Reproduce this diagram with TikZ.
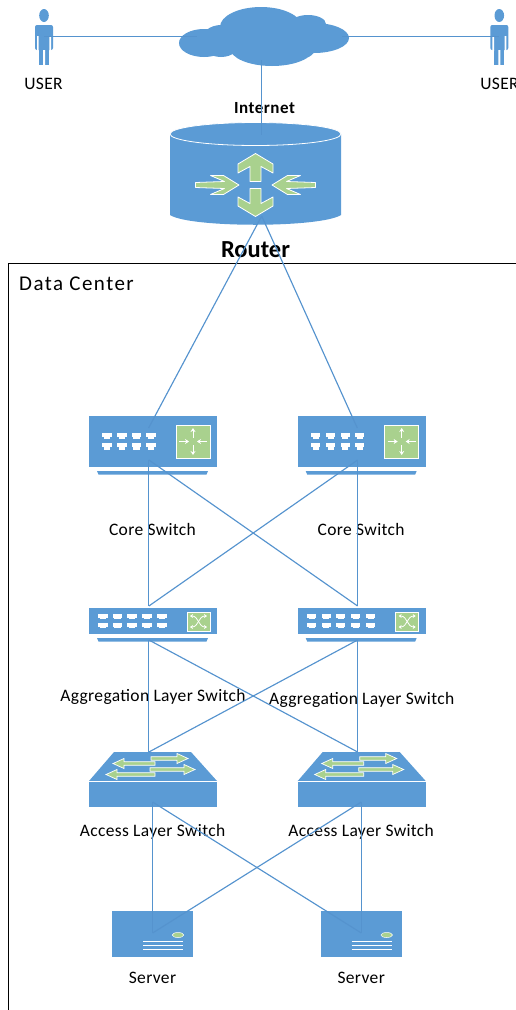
\documentclass[tikz,border=0pt]{standalone}
\usepackage{fontspec}
\setmainfont[LetterSpace=2]{Carlito}
\usetikzlibrary{arrows.meta}
\definecolor{netblue}{HTML}{5B9BD5}
\definecolor{netline}{HTML}{5593CE}
\definecolor{netgreen}{HTML}{A9D18E}
\newcommand{\portrow}[3]{% columns, top y, height
  \foreach \px in {#1} {
    \fill[white] (\px-4.7,#2) rectangle (\px+4.7,#2+4);
    \fill[white] (\px-3.1,#2+4) rectangle (\px+3.1,#2+#3);
  }
}
\newcommand{\baseplate}[1]{\fill[netblue] (97,#1) -- (208,#1) -- (206.5,#1+3.5) -- (98.5,#1+3.5) -- cycle;}
\newcommand{\flatarrow}[3]{% tail x, tip x, y
  \filldraw[netgreen, draw=white, line width=.7pt] (#1,#3-1.8) -- ({#2-sign(#2-#1)*11},#3-1.8) -- ({#2-sign(#2-#1)*11},#3-5)
    -- (#2,#3) -- ({#2-sign(#2-#1)*11},#3+5) -- ({#2-sign(#2-#1)*11},#3+1.8) -- (#1,#3+1.8) -- cycle;
}
\begin{document}
\begin{tikzpicture}[
  x=1pt, y=-1pt,
  every node/.style = {inner sep=0pt, font=\fontsize{17.5}{20}\selectfont},
  device/.style = {shape=rectangle, fill=netblue, minimum width=128pt},
  corebox/.style = {device, minimum height=51pt},
  aggbox/.style = {device, minimum height=26pt},
  accessbox/.style = {device, minimum height=25pt},
  serverbox/.style = {shape=rectangle, fill=netblue, minimum width=81pt, minimum height=46pt},
  lbl/.style = {text=black},
  link/.style = {draw=netline, line width=1.15pt},
  tinyarrow/.style = {draw=white, line width=1pt, -{Stealth[length=4pt,width=5pt]}},
  arrowface/.style = {fill=netgreen, draw=white, line width=.8pt, line join=round}
]
  \useasboundingbox (0,0) rectangle (516,1010);
  % data center frame
  \draw[black, line width=.8pt] (8,1010) -- (8,263.6) -- (516,263.6);
  \node[lbl, font=\fontsize{21}{24}\selectfont\addfontfeatures{LetterSpace=7}] (dclabel) at (76.5,284) {Data Center};

  % cloud
  \fill[netblue] (204,43) ellipse (25 and 14) (221,41) ellipse (20 and 16) (261,27) ellipse (41 and 20)
    (308,24) ellipse (18 and 9) (314,38) ellipse (35 and 15) (272,48) ellipse (42 and 18) (295,49) ellipse (20 and 11);
  \coordinate (cloudL) at (197,36.7);
  \coordinate (cloudR) at (342,36.7);
  \coordinate (cloudB) at (261.7,60);

  % users
  \foreach \n/\x in {userA/44, userB/499.3} {
    \begin{scope}[shift={(\x,0)}]
      \fill[netblue] (0,15.5) ellipse (4.8 and 6.5);
      \fill[netblue, rounded corners=2pt] (-9,50) -- (-9,25) -- (9,25) -- (9,50) -- cycle;
      \fill[netblue] (-5,40) rectangle (5,64.5);
      \fill[white] (-7,36) rectangle (-5.3,51) (5.3,36) rectangle (7,51) (-1,50) rectangle (1,65);
      \coordinate (\n) at (0,36.7);
    \end{scope}
  }
  \node[lbl] (userAlabel) at (43.5,84) {USER};
  \node[lbl] (userBlabel) at (499.5,84) {USER};

  % router
  \fill[netblue] (170,134) -- (170,215) .. controls (190,228) and (320,228) .. (341,215) -- (341,134) -- cycle;
  \filldraw[fill=netblue, draw=white, line width=.8pt] (255.5,134) ellipse (85.5 and 11.5);
  \foreach \s in {-1,1} {
    \begin{scope}[shift={(255.5,185)}]
      \path[arrowface, yscale=\s] (0,31.5) -- (17.5,21) -- (17.5,12) -- (5.5,18.5) -- (5.5,3.5) -- (-5.5,3.5)
        -- (-5.5,18.5) -- (-17.5,12) -- (-17.5,21) -- cycle;
      \path[arrowface, xscale=\s] (16.5,0) -- (32,-9.5) -- (45,-9.5) -- (31,-3.5) -- (60,-2.5) -- (60,2.5)
        -- (31,3.5) -- (45,9.5) -- (32,9.5) -- cycle;
    \end{scope}
  }
  \coordinate (routerT) at (261.7,135);
  \coordinate (routerB) at (261.7,216);
  \node[lbl, font=\bfseries\fontsize{17}{20}\selectfont\addfontfeatures{LetterSpace=3}] (inetlabel) at (264.5,108) {Internet};
  \node[lbl, font=\bfseries\fontsize{24.5}{26}\selectfont\addfontfeatures{LetterSpace=0}] (routerlabel) at (255.5,249.5) {Router};

  % core switches
  \foreach \n/\x in {coreA/0, coreB/208.7} {
    \begin{scope}[shift={(\x,0)}]
      \node[corebox] (\n) at (153,441.5) {};
      \baseplate{471}
      \portrow{107,122,136.5,151}{432.5}{6.7}
      \portrow{107,122,136.5,151}{443}{6.7}
      \filldraw[fill=netgreen, draw=white, line width=.8pt] (176,425) rectangle (210,458);
      \draw[tinyarrow] (193,438) -- (193,428);
      \draw[tinyarrow] (193,445) -- (193,455);
      \draw[tinyarrow] (179,441.5) -- (189,441.5);
      \draw[tinyarrow] (207,441.5) -- (197,441.5);
      \coordinate (\n T) at (148.6,428);
      \coordinate (\n B) at (148.9,460);
      \node[lbl] (\n label) at (152.5,529.5) {Core Switch};
    \end{scope}
  }

  % aggregation switches
  \foreach \n/\x/\ly in {aggA/0/697, aggB/208.7/700} {
    \begin{scope}[shift={(\x,0)}]
      \node[aggbox] (\n) at (153,621) {};
      \baseplate{638}
      \portrow{103,117.5,132,147,162}{614}{5}
      \portrow{103,117.5,132,147,162}{623}{5}
      \filldraw[fill=netgreen, draw=white, line width=.8pt] (187,612) rectangle (210,631);
      \draw[white, line width=.8pt, {Stealth[length=3pt,width=4pt]}-{Stealth[length=3pt,width=4pt]}] (190,616) .. controls (199,616) and (198,627) .. (207,627);
      \draw[white, line width=.8pt, {Stealth[length=3pt,width=4pt]}-{Stealth[length=3pt,width=4pt]}] (190,627) .. controls (199,627) and (198,616) .. (207,616);
      \coordinate (\n T) at (148.9,606);
      \coordinate (\n B) at (148.9,640);
      \node[lbl] (\n label) at (153,\ly) {Aggregation Layer Switch};
    \end{scope}
  }

  % access switches
  \foreach \n/\x in {accessA/0, accessB/208.7} {
    \begin{scope}[shift={(\x,0)}]
      \node[accessbox] (\n) at (153,794.5) {};
      \fill[netblue] (114,752) -- (191,752) -- (217,781) -- (89,781) -- cycle;
      \draw[white, line width=.6pt] (89,781.5) -- (217,781.5);
      \flatarrow{151}{188}{758.5}
      \flatarrow{155}{113}{763.5}
      \flatarrow{150}{195}{769.5}
      \flatarrow{155}{106}{774.5}
      \coordinate (\n T) at (148.9,752);
      \coordinate (\n B) at (152.6,802);
      \node[lbl] (\n label) at (152.5,832) {Access Layer Switch};
    \end{scope}
  }

  % servers
  \foreach \n/\x in {serverA/0, serverB/208.7} {
    \begin{scope}[shift={(\x,0)}]
      \node[serverbox] (\n) at (152.5,933.5) {};
      \filldraw[fill=netgreen, draw=white, line width=.5pt] (178,935) ellipse (5.8 and 2.5);
      \foreach \ly in {941.7,945.5,949.3}
        \draw[white, line width=.8pt] (143,\ly) -- (183,\ly);
      \coordinate (\n T) at (152.6,933);
      \node[lbl] (\n label) at (152.5,978) {Server};
    \end{scope}
  }

  % links
  \draw[link] (userA) -- (cloudL);
  \draw[link] (cloudR) -- (userB);
  \draw[link] (cloudB) -- (routerT);
  \foreach \a in {coreAT, coreBT}
    \draw[link] (routerB) -- (\a);
  \foreach \a in {coreAB, coreBB}
    \foreach \b in {aggAT, aggBT}
      \draw[link] (\a) -- (\b);
  \foreach \a in {aggAB, aggBB}
    \foreach \b in {accessAT, accessBT}
      \draw[link] (\a) -- (\b);
  \foreach \a in {accessAB, accessBB}
    \foreach \b in {serverAT, serverBT}
      \draw[link] (\a) -- (\b);
\end{tikzpicture}
\end{document}
